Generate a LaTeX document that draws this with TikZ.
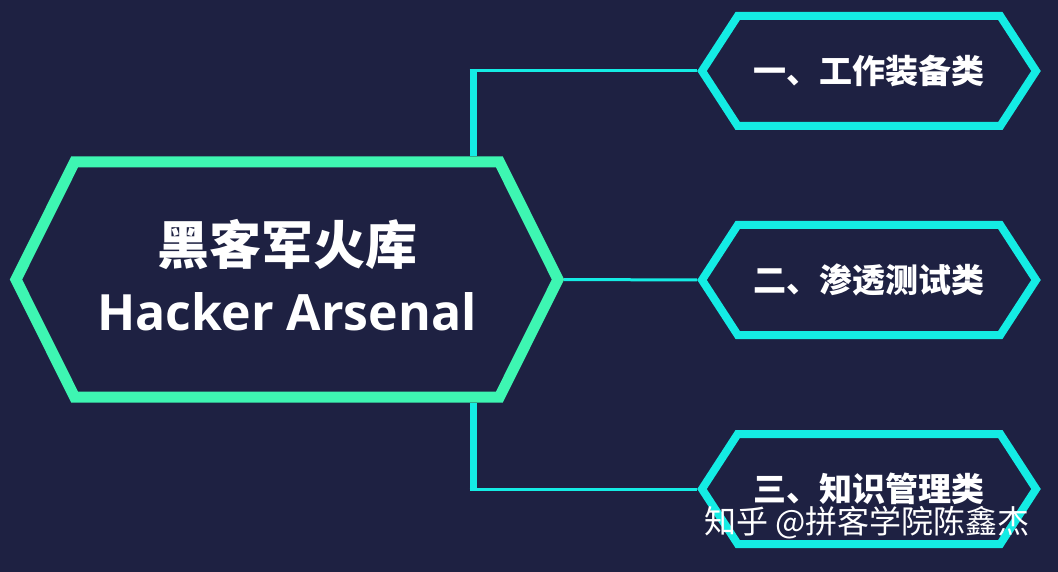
\documentclass[tikz,border=0pt]{standalone}
\usepackage{fontspec}
\setmainfont{Noto Sans CJK SC}
\newfontfamily\latinfont{Open Sans}
\usetikzlibrary{shapes.symbols}
\definecolor{bgnavy}{RGB}{30,33,66}
\definecolor{coremint}{RGB}{62,246,178}
\definecolor{branchcyan}{RGB}{20,236,228}
\tikzset{
  corebox/.style={signal, signal to=west and east, signal pointer angle=127,
    draw=coremint, line width=11pt, minimum width=542pt, minimum height=235pt,
    inner sep=0pt, text=white, align=center, text depth=9pt,
    font=\bfseries\fontsize{52}{66}\selectfont},
  branchbox/.style={signal, signal to=west and east, signal pointer angle=114,
    draw=branchcyan, line width=8pt, minimum width=334pt, minimum height=110pt,
    inner sep=0pt, text=white, font=\bfseries\fontsize{33}{40}\selectfont},
  link/.style={draw=branchcyan, line width=3pt},
  spineline/.style={draw=branchcyan, line width=7pt},
}
\begin{document}
\begin{tikzpicture}[x=1pt,y=-1pt]
  \fill[bgnavy] (0,0) rectangle (1058,572);
  \useasboundingbox (0,0) rectangle (1058,572);
  % main hexagon
  \node[corebox] (core) at (287,279.5)
    {黑客军火库\\ {\latinfont\bfseries\fontsize{50}{66}\selectfont Hacker Arsenal}};
  % branches
  \node[branchbox] (gear) at (869,71) {一、工作装备类};
  \node[branchbox] (pentest) at (869,280) {二、渗透测试类};
  \node[branchbox] (notes) at (869,489) {三、知识管理类};
  % connectors
  \coordinate (spine) at (473,0);
  \draw[spineline] (core.north -| spine) -- ([yshift=-1.5]spine |- gear.west);
  \draw[spineline] (core.south -| spine) -- ([yshift=1.5]spine |- notes.west);
  \draw[link] ([xshift=-3.5]spine |- gear.west) -- (gear.west);
  \draw[link] ([xshift=-3.5]spine |- notes.west) -- (notes.west);
  \draw[link] (core.east) -- (pentest.west);
  % watermark
  \node[text=white, font=\fontsize{32}{38}\selectfont] (mark) at (867,523)
    {知乎 @拼客学院陈鑫杰};
\end{tikzpicture}
\end{document}
